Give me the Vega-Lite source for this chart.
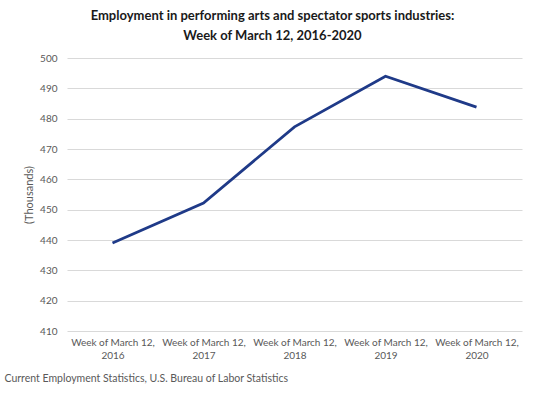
{
  "$schema": "https://vega.github.io/schema/vega-lite/v6.json",
  "autosize": "none",
  "width": 455,
  "height": 273,
  "padding": {"left": 67, "top": 58, "right": 18, "bottom": 68},
  "background": "white",
  "config": {
    "font": "Lato",
    "view": {"stroke": null}
  },
  "title": {
    "text": ["Employment in performing arts and spectator sports industries:", "Week of March 12, 2016-2020"],
    "fontSize": 13,
    "fontWeight": "bold",
    "color": "#1a1a1a",
    "anchor": "middle",
    "dx": -22,
    "offset": 10,
    "lineHeight": 20
  },
  "data": {
    "values": [
      {"week": "Week of March 12, 2016", "employment": 439.0},
      {"week": "Week of March 12, 2017", "employment": 452.2},
      {"week": "Week of March 12, 2018", "employment": 477.3},
      {"week": "Week of March 12, 2019", "employment": 494.0},
      {"week": "Week of March 12, 2020", "employment": 483.8}
    ]
  },
  "mark": {"type": "line", "color": "#1f3a88", "strokeWidth": 2.8},
  "encoding": {
    "x": {
      "field": "week",
      "type": "ordinal",
      "scale": {"paddingInner": 0, "paddingOuter": 0.5},
      "axis": {
        "labelAngle": 0,
        "labelExpr": "[split(datum.label, ', ')[0] + ',', split(datum.label, ', ')[1]]",
        "labelFontSize": 10,
        "labelColor": "#595959",
        "labelLineHeight": 13,
        "labelPadding": 6,
        "domain": false,
        "ticks": false,
        "title": "Current Employment Statistics, U.S. Bureau of Labor Statistics",
        "titleFontSize": 10.5,
        "titleFontWeight": "normal",
        "titleColor": "#595959",
        "titleAnchor": "start",
        "titleAlign": "left",
        "titleX": -63,
        "titleY": 42
      }
    },
    "y": {
      "field": "employment",
      "type": "quantitative",
      "scale": {"domain": [410, 500], "nice": false, "zero": false},
      "axis": {
        "values": [410, 420, 430, 440, 450, 460, 470, 480, 490, 500],
        "labelFontSize": 10,
        "labelColor": "#595959",
        "labelPadding": 10,
        "domain": false,
        "ticks": false,
        "gridColor": "#d9d9d9",
        "gridWidth": 1,
        "title": "(Thousands)",
        "titleFontSize": 11,
        "titleFontWeight": "normal",
        "titleColor": "#595959",
        "titlePadding": 5
      }
    }
  }
}
